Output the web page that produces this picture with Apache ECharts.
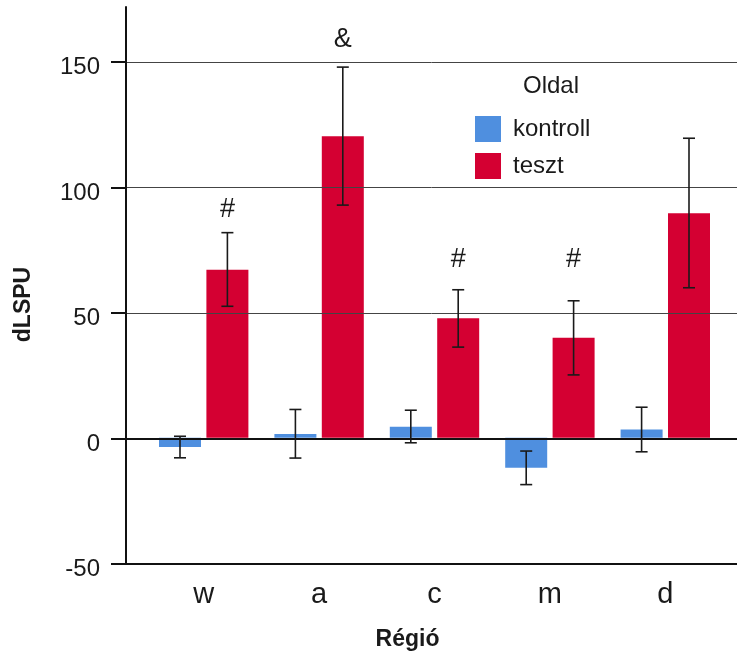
<!DOCTYPE html>
<html>
<head>
<meta charset="utf-8">
<script src="https://cdn.jsdelivr.net/npm/echarts@6/dist/echarts.min.js"></script>
<style>
html,body{margin:0;padding:0;background:#fff;}
#chart{width:737px;height:656px;}
</style>
</head>
<body>
<div id="chart"></div>
<script>
// ---- data ----
const categories = ['w', 'a', 'c', 'm', 'd'];
const kontrollMean = [-3.7, 1.5, 4.4, -12.0, 3.3];
const kontrollLow  = [-8.0, -8.1, -2.0, -18.7, -5.6];
const kontrollHigh = [0.6, 11.3, 11.0, -5.3, 12.2];
const tesztMean = [67.1, 120.4, 47.7, 39.9, 89.6];
const tesztLow  = [52.5, 92.9, 36.2, 25.1, 59.9];
const tesztHigh = [81.9, 148.0, 59.1, 54.7, 119.6];
const annoText = ['#', '&', '#', '#', ''];
const annoY = [91, 159, 71, 71, null];
const yTicks = [-50, 0, 50, 100, 150];

// ---- style ----
const FONT = "'Liberation Sans', Arial, sans-serif";
const TXT = '#1a1a1a';
const BLUE = '#4F8FDF';
const RED = '#D40032';
const BAR_W = 42;
const BAR_GAP = 5.4;
const OFF = (BAR_W + BAR_GAP) / 2;
const Y_MIN = -50, Y_MAX = 172;

function errData(low, high) {
  return categories.map((c, i) => [i, low[i], high[i]]);
}
function errRender(offset) {
  return function (params, api) {
    const x = api.value(0);
    const lo = api.coord([x, api.value(1)]);
    const hi = api.coord([x, api.value(2)]);
    const cx = lo[0] + offset;
    const cap = 6;
    const style = { stroke: '#1a1a1a', lineWidth: 1.6 };
    return {
      type: 'group',
      children: [
        { type: 'line', shape: { x1: cx, y1: lo[1], x2: cx, y2: hi[1] }, style },
        { type: 'line', shape: { x1: cx - cap, y1: lo[1], x2: cx + cap, y2: lo[1] }, style },
        { type: 'line', shape: { x1: cx - cap, y1: hi[1], x2: cx + cap, y2: hi[1] }, style }
      ]
    };
  };
}

const chart = echarts.init(document.getElementById('chart'), null, { renderer: 'canvas' });
chart.setOption({
  backgroundColor: '#fff',
  animation: false,
  title: {
    text: 'Oldal', left: 518, top: 69,
    textStyle: { fontSize: 24, fontWeight: 'normal', fontFamily: FONT, color: TXT }
  },
  legend: {
    orient: 'vertical', left: 470, top: 111,
    itemWidth: 26, itemHeight: 26, itemGap: 11,
    icon: 'rect',
    data: ['kontroll', 'teszt'],
    textStyle: { fontSize: 24, fontFamily: FONT, color: TXT, padding: [0, 0, 0, 7] }
  },
  grid: [
    { left: 126, right: 0, top: 7, bottom: 92 },
    { left: 146, right: 14, top: 7, bottom: 92 }
  ],
  xAxis: [
    { gridIndex: 0, type: 'value', min: 0, max: 1, z: 5,
      axisLine: { show: true, onZero: false, lineStyle: { color: '#111', width: 2 } },
      axisTick: { show: false }, axisLabel: { show: false }, splitLine: { show: false } },
    { gridIndex: 0, type: 'value', min: 0, max: 1, z: 5,
      axisLine: { show: true, onZero: true, lineStyle: { color: '#111', width: 2 } },
      axisTick: { show: false }, axisLabel: { show: false }, splitLine: { show: false } },
    { gridIndex: 1, type: 'category', data: categories,
      axisLine: { show: false }, axisTick: { show: false }, splitLine: { show: false },
      axisLabel: { fontSize: 29, fontFamily: FONT, color: TXT, margin: 17 },
      name: 'Régió', nameLocation: 'middle', nameGap: 65,
      nameTextStyle: { fontSize: 23, fontWeight: 'bold', fontFamily: FONT, color: TXT, padding: [0, 54, 0, 0] } }
  ],
  yAxis: [
    { gridIndex: 0, type: 'value', min: Y_MIN, max: Y_MAX, interval: 50, z: 5,
      axisLine: { show: true, lineStyle: { color: '#111', width: 2 } },
      axisTick: { show: true, length: 15, customValues: yTicks, lineStyle: { color: '#111', width: 2 } },
      axisLabel: { fontSize: 24, fontFamily: FONT, color: TXT, margin: 26, customValues: yTicks,
        verticalAlign: 'top', lineHeight: 11 },
      splitLine: { show: true, lineStyle: { color: '#444', width: 1 } },
      name: 'dLSPU', nameLocation: 'middle', nameGap: 91,
      nameTextStyle: { fontSize: 23, fontWeight: 'bold', fontFamily: FONT, color: TXT, padding: [0, 38, 0, 0] } },
    { gridIndex: 1, type: 'value', min: Y_MIN, max: Y_MAX, interval: 50, show: false }
  ],
  series: [
    { name: 'kontroll', type: 'bar', xAxisIndex: 2, yAxisIndex: 1, data: kontrollMean,
      barWidth: BAR_W, barGap: (BAR_GAP / BAR_W * 100) + '%', itemStyle: { color: BLUE } },
    { name: 'teszt', type: 'bar', xAxisIndex: 2, yAxisIndex: 1, data: tesztMean,
      barWidth: BAR_W, itemStyle: { color: RED } },
    { type: 'custom', xAxisIndex: 2, yAxisIndex: 1, z: 6, data: errData(kontrollLow, kontrollHigh), renderItem: errRender(-OFF), silent: true },
    { type: 'custom', xAxisIndex: 2, yAxisIndex: 1, z: 6, data: errData(tesztLow, tesztHigh), renderItem: errRender(OFF), silent: true },
    { type: 'custom', xAxisIndex: 2, yAxisIndex: 1, z: 6,
      data: categories.map((c, i) => [i, annoY[i]]).filter(d => d[1] != null),
      renderItem: function (params, api) {
        const p = api.coord([api.value(0), api.value(1)]);
        const idx = api.value(0);
        return { type: 'text', x: p[0] + OFF, y: p[1],
          style: { text: annoText[idx], fontSize: 27, fontFamily: FONT, fill: TXT, align: 'center', verticalAlign: 'middle' } };
      }, silent: true }
  ]
});
</script>
</body>
</html>
